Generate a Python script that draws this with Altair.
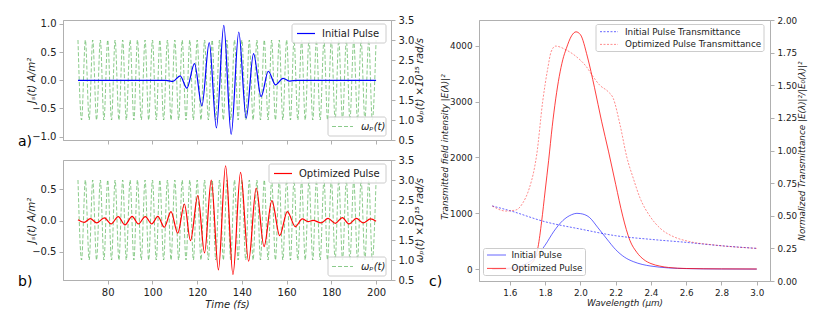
import altair as alt
import pandas as pd

FONT = "DejaVu Sans"
AXC = "#b0b0b0"
TXT = "#222222"

# ---------------- data ----------------
# omega_p(t): extrema of the modulated plasma frequency (x1e15 rad/s)
green_t = [66.7, 68.3, 70.0, 71.7, 73.3, 75.0, 76.7, 78.3, 80.0, 81.7, 83.3, 85.0, 86.7, 88.3,
           90.0, 91.7, 93.3, 95.0, 96.7, 98.3, 100.0, 101.7, 103.3, 105.0, 106.7, 108.3, 110.0,
           111.7, 113.3, 115.0, 116.7, 118.3, 120.0, 121.7, 123.3, 125.0, 126.7, 128.3, 130.0,
           131.7, 133.3, 135.0, 136.7, 138.3, 140.0, 141.7, 143.3, 145.0, 146.7, 148.3, 150.0,
           151.7, 153.3, 155.0, 156.7, 158.3, 160.0, 161.7, 163.3, 165.0, 166.7, 168.3, 170.0,
           171.7, 173.3, 175.0, 176.7, 178.3, 180.0, 181.7, 183.3, 185.0, 186.7, 188.3, 190.0,
           191.7, 193.3, 195.0, 196.7, 198.3, 200.0]
green_w = [3.0, 1.0, 3.0, 1.0, 3.0, 1.0, 3.0, 1.0, 3.0, 1.0, 3.0, 1.0, 3.0, 1.0,
           3.0, 1.0, 3.0, 1.0, 3.0, 1.0, 3.0, 1.0, 3.0, 1.0, 3.0, 1.0, 3.0,
           1.0, 3.0, 1.0, 3.0, 1.0, 3.0, 1.0, 3.0, 1.0, 3.0, 1.0, 3.0,
           1.0, 3.0, 1.0, 3.0, 1.0, 3.0, 1.0, 3.0, 1.0, 3.0, 1.0, 3.0,
           1.0, 3.0, 1.0, 3.0, 1.0, 3.0, 1.0, 3.0, 1.0, 3.0, 1.0, 3.0,
           1.0, 3.0, 1.0, 3.0, 1.0, 3.0, 1.0, 3.0, 1.0, 3.0, 1.0, 3.0,
           1.0, 3.0, 1.0, 3.0, 1.0, 3.0]

# Initial pulse current J_s(t)
init_t = [66.7, 100.0, 106.0, 109.1, 112.4, 115.4, 118.8, 122.1, 125.4, 128.6, 131.9, 135.2,
          138.6, 141.9, 145.2, 148.6, 151.8, 155.0, 158.4, 161.4, 164.5, 170.0, 200.0]
init_j = [0.0, 0.0, 0.0, -0.02, 0.08, -0.14, 0.295, -0.455, 0.668, -0.845, 0.975, -0.96,
          0.857, -0.67, 0.473, -0.29, 0.16, -0.08, 0.035, -0.015, 0.0, 0.0, 0.0]

# Optimized pulse current J_s(t)
opt_t = [66.7, 69.5, 72.2, 75.1, 78.5, 81.5, 84.7, 87.7, 90.9, 93.7, 96.8, 99.7, 102.4, 105.3,
         108.3, 111.3, 114.3, 117.0, 120.3, 123.3, 126.3, 129.5, 132.7, 136.0, 139.4, 143.0,
         146.4, 149.9, 153.4, 156.9, 160.3, 163.9, 167.0, 169.6, 171.8, 175.5, 178.5, 181.8,
         184.9, 187.9, 191.2, 194.2, 197.5, 200.0]
opt_j = [0.015, -0.027, 0.032, -0.037, 0.043, -0.053, 0.064, -0.069, 0.069, -0.053, 0.064,
         -0.053, 0.069, -0.106, 0.144, -0.202, 0.266, -0.319, 0.40, -0.516, 0.649, -0.787,
         0.878, -0.862, 0.772, -0.65, 0.522, -0.415, 0.32, -0.24, 0.144, -0.096, 0.027,
         -0.016, 0.005, -0.037, 0.037, -0.043, 0.048, -0.053, 0.037, -0.037, 0.027, -0.011]

# Transmitted field intensity (panel c)
lam_init = [1.50, 1.60, 1.65, 1.70, 1.75, 1.80, 1.85, 1.90, 1.95, 1.98, 2.00, 2.05, 2.10,
            2.15, 2.20, 2.25, 2.30, 2.35, 2.40, 2.45, 2.50, 2.60, 2.70, 2.80, 3.00]
int_init = [2, 20, 50, 110, 230, 430, 680, 870, 975, 1000, 995, 930, 740, 540, 350, 215,
            135, 85, 55, 35, 22, 10, 5, 3, 1]
lam_opt = [1.50, 1.60, 1.68, 1.72, 1.74, 1.76, 1.78, 1.80, 1.82, 1.84, 1.86, 1.88, 1.90,
           1.92, 1.95, 1.975, 2.00, 2.04, 2.08, 2.12, 2.16, 2.20, 2.24, 2.28, 2.32, 2.36,
           2.40, 2.45, 2.50, 2.60, 2.80, 3.00]
int_opt = [0, 5, 30, 100, 180, 400, 850, 1400, 1950, 2550, 3050, 3450, 3750, 3950, 4180,
           4250, 4200, 3800, 3250, 2650, 2100, 1520, 950, 520, 300, 170, 100, 55, 30, 12, 5, 3]

# Normalized transmittance (panel c, right axis)
lam_T0 = [1.5, 1.6, 1.8, 2.0, 2.2, 2.4, 2.6, 2.8, 3.0]
T_init = [0.575, 0.539, 0.454, 0.398, 0.347, 0.319, 0.296, 0.27, 0.25]
lam_T1 = [1.50, 1.577, 1.634, 1.672, 1.71, 1.739, 1.752, 1.786, 1.815, 1.834, 1.859, 1.92,
          1.977, 2.034, 2.072, 2.11, 2.158, 2.186, 2.225, 2.263, 2.30, 2.339, 2.396, 2.453,
          2.529, 2.606, 2.758, 3.00]
T_opt = [0.575, 0.536, 0.544, 0.595, 0.71, 0.863, 0.966, 1.374, 1.63, 1.757, 1.80, 1.77,
         1.719, 1.642, 1.566, 1.50, 1.45, 1.40, 1.195, 0.95, 0.786, 0.633, 0.493, 0.403,
         0.339, 0.306, 0.276, 0.25]

t_ticks = [80, 100, 120, 140, 160, 180, 200]
w_ticks = [0.5, 1.0, 1.5, 2.0, 2.5, 3.0, 3.5]
ja_ticks = [-1.0, -0.5, 0.0, 0.5, 1.0]
jb_ticks = [-0.5, 0.0, 0.5]
lam_ticks = [1.6, 1.8, 2.0, 2.2, 2.4, 2.6, 2.8, 3.0]
int_ticks = [0, 1000, 2000, 3000, 4000]
T_ticks = [0.0, 0.25, 0.5, 0.75, 1.0, 1.25, 1.5, 1.75, 2.0]

# ---------------- helpers ----------------
W_AB, H_AB = 328, 120
W_C, H_C = 291, 261
FS_AB = 10
FS_C = 8.8

one = pd.DataFrame({"k": [0]})


def df(x, y):
    return pd.DataFrame({"x": x, "y": y})


def box(x0, x1, y0, y1):
    return alt.Chart(one).mark_rect(fill="white", fillOpacity=0.85, stroke="#cccccc",
                                    strokeWidth=1, cornerRadius=2).encode(
        x=alt.value(x0), x2=alt.value(x1), y=alt.value(y0), y2=alt.value(y1))


def sample(x0, x1, y, color, dash=None, opacity=1.0, width=1.2):
    kw = dict(color=color, strokeWidth=width, opacity=opacity)
    if dash:
        kw["strokeDash"] = dash
    return alt.Chart(one).mark_rule(**kw).encode(x=alt.value(x0), x2=alt.value(x1), y=alt.value(y))


def label(x, y, text, size, style="normal"):
    return alt.Chart(one).mark_text(text=text, align="left", baseline="middle", font=FONT,
                                    fontSize=size, fontStyle=style, color=TXT).encode(
        x=alt.value(x), y=alt.value(y))


def axis(**kw):
    base = dict(grid=False, labelFont=FONT, titleFont=FONT, labelColor=TXT, titleColor=TXT,
                domainColor=AXC, tickColor=AXC, tickSize=4, labelPadding=3,
                titleFontWeight="normal", labelOverlap=False)
    base.update(kw)
    return alt.Axis(**base)


# ---------------- panels a and b ----------------
def time_panel(jt, jv, jdom, jticks, color, name, letter, show_x):
    if show_x:
        xax = axis(values=t_ticks, format="d", title="Time  (fs)", titleFontStyle="italic",
                   labelFontSize=FS_AB, titleFontSize=FS_AB, titlePadding=2)
    else:
        xax = axis(values=t_ticks, labels=False, title=None)
    xenc = alt.X("x:Q", scale=alt.Scale(domain=[60, 206.67], nice=False, zero=False), axis=xax)
    yw = alt.Y("y:Q", scale=alt.Scale(domain=[0.5, 3.5], nice=False, zero=False),
               axis=axis(orient="right", values=w_ticks, format=".1f",
                         title="ω\u209a(t) ×10¹⁵ rad/s", titleFontStyle="italic",
                         titleAngle=270, titleBaseline="top",
                         labelFontSize=FS_AB, titleFontSize=FS_AB, titlePadding=1))
    yj = alt.Y("y:Q", scale=alt.Scale(domain=jdom, nice=False, zero=False),
               axis=axis(orient="left", values=jticks, format=".1f",
                         title="J\u209b(t)  A/m²", titleFontStyle="italic",
                         titleX=-27, titleY=H_AB / 2,
                         labelFontSize=FS_AB, titleFontSize=FS_AB))
    green = alt.Chart(df(green_t, green_w)).mark_line(
        color="#2ca02c", opacity=0.55, strokeWidth=1, strokeDash=[4, 2],
        interpolate="monotone").encode(x=xenc, y=yw)
    pulse = alt.Chart(df(jt, jv)).mark_line(
        color=color, strokeWidth=1.2, interpolate="monotone").encode(x=xenc, y=yj)
    lw = 117 if name == "Optimized Pulse" else 94
    deco = [
        box(W_AB - 5 - lw, W_AB - 5, 4, 23),
        sample(W_AB - lw + 0, W_AB - lw + 18, 13.5, color),
        label(W_AB - lw + 25, 13.5, name, FS_AB),
        box(W_AB - 63, W_AB - 5, 97, 116),
        sample(W_AB - 59, W_AB - 38, 106.5, "#2ca02c", dash=[4, 2], opacity=0.55, width=1),
        label(W_AB - 30, 106.5, "ω\u209a(t)", FS_AB, "italic"),
        alt.Chart(one).mark_text(text=letter, align="left", baseline="middle", font=FONT,
                                 fontSize=14, color="black").encode(
            x=alt.value(-45), y=alt.value(122)),
    ]
    return alt.layer(green, pulse, *deco).resolve_scale(y="independent").properties(
        width=W_AB, height=H_AB)


panel_a = time_panel(init_t, init_j, [-1.06, 1.07], ja_ticks, "#0000ff", "Initial Pulse", "a)", False)
panel_b = time_panel(opt_t, opt_j, [-0.95, 0.97], jb_ticks, "#ff0000", "Optimized Pulse", "b)", True)

# ---------------- panel c ----------------
xl = alt.X("x:Q", scale=alt.Scale(domain=[1.425, 3.075], nice=False, zero=False),
           axis=axis(values=lam_ticks, format=".1f", title="Wavelength  (μm)",
                     titleFontStyle="italic", labelFontSize=FS_C, titleFontSize=FS_C,
                     titlePadding=2))
yI = alt.Y("y:Q", scale=alt.Scale(domain=[-212, 4462], nice=False, zero=False),
           axis=axis(orient="left", values=int_ticks, format="d",
                     title="Transmitted field intensity |E(λ)|²", titleFontStyle="italic",
                     titleX=-30, titleY=H_C / 2 - 4,
                     labelFontSize=FS_C, titleFontSize=FS_C))
yT = alt.Y("y:Q", scale=alt.Scale(domain=[0, 2], nice=False, zero=False),
           axis=axis(orient="right", values=T_ticks, format=".2f",
                     title="Normalized Transmittance |E(λ)|²/|E₀(λ)|²", titleFontStyle="italic",
                     titleAngle=270, titleBaseline="top",
                     labelFontSize=FS_C, titleFontSize=FS_C, titlePadding=1))

int_layer = alt.layer(
    alt.Chart(df(lam_init, int_init)).mark_line(color="#0000ff", opacity=0.6, strokeWidth=1,
                                                interpolate="monotone").encode(x=xl, y=yI),
    alt.Chart(df(lam_opt, int_opt)).mark_line(color="#ff0000", opacity=0.75, strokeWidth=1,
                                              interpolate="monotone").encode(x=xl, y=yI),
)
T_layer = alt.layer(
    alt.Chart(df(lam_T0, T_init)).mark_line(color="#0000ff", opacity=0.6, strokeWidth=1,
                                            strokeDash=[2, 1.5],
                                            interpolate="monotone").encode(x=xl, y=yT),
    alt.Chart(df(lam_T1, T_opt)).mark_line(color="#ff0000", opacity=0.45, strokeWidth=1,
                                           strokeDash=[2, 1.5],
                                           interpolate="monotone").encode(x=xl, y=yT),
)
deco_c = [
    box(117, 285, 4.5, 31.5),
    sample(121, 139, 11.7, "#0000ff", dash=[2, 1.5], opacity=0.6, width=1),
    label(146, 11.7, "Initial Pulse Transmittance", FS_C),
    sample(121, 139, 24.4, "#ff0000", dash=[2, 1.5], opacity=0.45, width=1),
    label(146, 24.4, "Optimized Pulse Transmittance", FS_C),
    box(4.5, 106.5, 228.5, 255.5),
    sample(8, 27, 235, "#0000ff", opacity=0.6, width=1),
    label(32.5, 235, "Initial Pulse", FS_C),
    sample(8, 27, 248.4, "#ff0000", opacity=0.75, width=1),
    label(32.5, 248.4, "Optimized Pulse", FS_C),
    alt.Chart(one).mark_text(text="c)", align="left", baseline="middle", font=FONT,
                             fontSize=14, color="black").encode(x=alt.value(-50), y=alt.value(262)),
]
panel_c = alt.layer(int_layer, T_layer, *deco_c).resolve_scale(y="independent").properties(
    width=W_C, height=H_C)

left = alt.vconcat(panel_a, panel_b, spacing=20, bounds="flush")
chart = alt.hconcat(left, panel_c, spacing=2).properties(
    padding={"left": 9, "top": 6, "right": 5, "bottom": 5},
    background="white",
).configure_view(stroke=AXC, strokeWidth=1)

chart.save("out.html", embed_options={"renderer": "svg", "actions": False})
